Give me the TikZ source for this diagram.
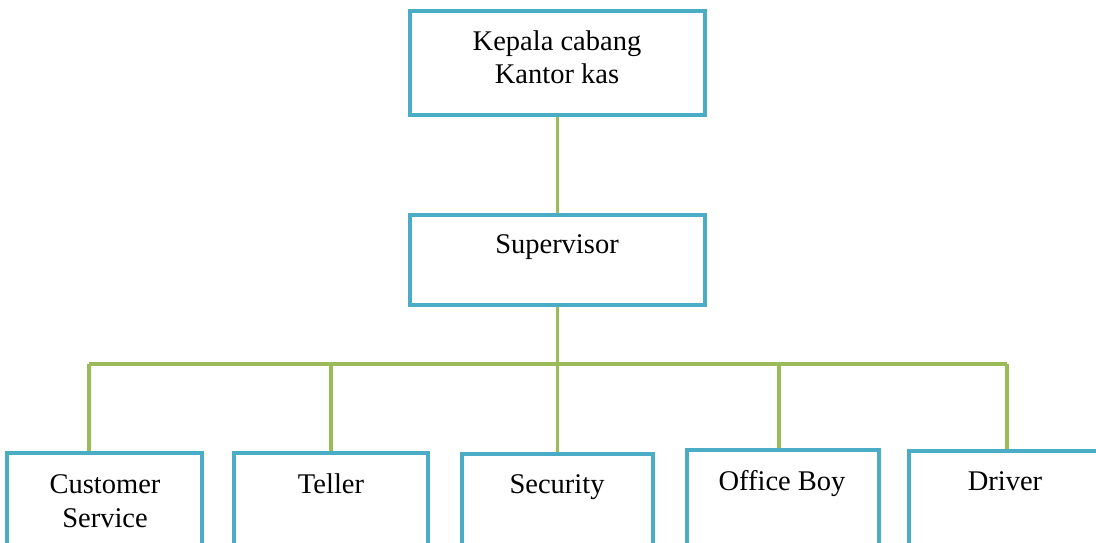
\documentclass[tikz,border=0pt]{standalone}
\usepackage{fontspec}
\setmainfont{Liberation Serif}
\definecolor{boxblue}{HTML}{4BACC6}
\definecolor{linegreen}{HTML}{9BBB59}
\begin{document}
\begin{tikzpicture}[x=1pt,y=-1pt,
  box/.style={draw=boxblue,line width=4pt,fill=white,rectangle,inner sep=0pt},
  conn/.style={draw=linegreen,line width=3.3pt},
  lbl/.style={anchor=base,font=\fontsize{28.5}{33}\selectfont,inner sep=0pt}]
\useasboundingbox (0,0) rectangle (1096,542);
\clip (0,0) rectangle (1096,542);
% boxes
\node[box,minimum width=295pt,minimum height=104pt] (kc) at (557.5,63) {};
\node[box,minimum width=295pt,minimum height=90pt] (sup) at (557.5,260) {};
\node[box,minimum width=195pt,minimum height=130pt] (cs) at (104.5,518) {};
\node[box,minimum width=194pt,minimum height=130pt] (tel) at (331,518) {};
\node[box,minimum width=191pt,minimum height=130pt] (sec) at (557.5,519) {};
\node[box,minimum width=192pt,minimum height=130pt] (ob) at (783,515) {};
\node[box,minimum width=201pt,minimum height=130pt] (drv) at (1009.5,516) {};
% coordinates on the bus
\coordinate (b1) at (89,364);
\coordinate (b2) at (331,364);
\coordinate (b3) at (557.5,364);
\coordinate (b4) at (779,364);
\coordinate (b5) at (1007,364);
% connectors
\begin{scope}[on background layer/.style={}]
\draw[conn] (kc.south) -- (sup.north);
\draw[conn] (sup.south) -- (b3);
\draw[conn] (b1) -- (b5);
\draw[conn] (b1) -- (b1 |- cs.north);
\draw[conn] (b2) -- (b2 |- tel.north);
\draw[conn] (b3) -- (sec.north);
\draw[conn] (b4) -- (b4 |- ob.north);
\draw[conn] (b5) -- (b5 |- drv.north);
\end{scope}
% labels
\node[lbl] (t1) at (557,50) {Kepala cabang};
\node[lbl] (t2) at (557,83) {Kantor kas};
\node[lbl] (t3) at (557,253) {Supervisor};
\node[lbl] (t4) at (105,493) {Customer};
\node[lbl] (t5) at (105,527) {Service};
\node[lbl] (t6) at (331,493) {Teller};
\node[lbl] (t7) at (557,493) {Security};
\node[lbl] (t8) at (782,490) {Office Boy};
\node[lbl] (t9) at (1005,490) {Driver};
\end{tikzpicture}
\end{document}
